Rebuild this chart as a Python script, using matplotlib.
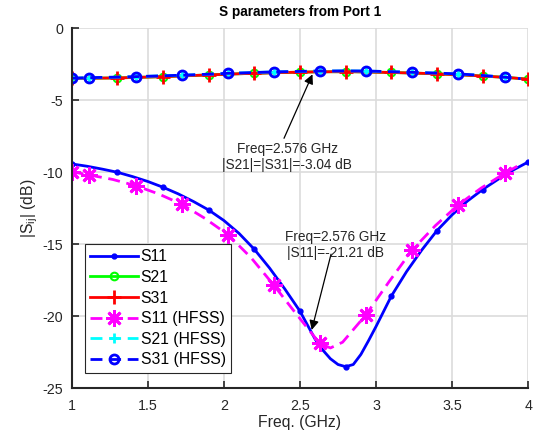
import numpy as np
import matplotlib
matplotlib.use('Agg')
import matplotlib.pyplot as plt

plt.rcParams['font.family'] = ['Liberation Sans', 'DejaVu Sans']
plt.rcParams['mathtext.fontset'] = 'custom'
plt.rcParams['mathtext.rm'] = 'Liberation Sans'
plt.rcParams['mathtext.it'] = 'Liberation Sans'
plt.rcParams['axes.unicode_minus'] = False

# circuit model data (GHz, dB)
freq = [1.0, 1.1, 1.2, 1.3, 1.4, 1.5, 1.6, 1.7, 1.8, 1.9, 2.0, 2.1, 2.2, 2.3, 2.4, 2.5,
        2.6, 2.65, 2.7, 2.75, 2.8, 2.85, 2.9, 2.95, 3.0, 3.1, 3.2, 3.3, 3.4, 3.5, 3.6,
        3.7, 3.8, 3.9, 4.0]
s11 = [-9.42, -9.58, -9.78, -10.0, -10.3, -10.64, -11.04, -11.5, -12.03, -12.62, -13.35,
       -14.25, -15.35, -16.65, -18.1, -19.65, -21.6, -22.35, -22.95, -23.35, -23.5, -23.35,
       -22.65, -21.7, -20.7, -18.6, -16.9, -15.4, -14.05, -12.95, -12.0, -11.2, -10.5,
       -9.85, -9.28]
s21 = [-3.48, -3.47, -3.46, -3.45, -3.42, -3.39, -3.36, -3.32, -3.28, -3.24, -3.2, -3.16,
       -3.13, -3.1, -3.07, -3.05, -3.03, -3.03, -3.02, -3.02, -3.02, -3.02, -3.03, -3.04,
       -3.05, -3.07, -3.1, -3.13, -3.17, -3.21, -3.26, -3.32, -3.38, -3.45, -3.54]
s31 = [-3.48, -3.47, -3.46, -3.45, -3.42, -3.39, -3.36, -3.32, -3.28, -3.24, -3.2, -3.16,
       -3.13, -3.1, -3.07, -3.05, -3.03, -3.03, -3.02, -3.02, -3.02, -3.02, -3.03, -3.04,
       -3.05, -3.07, -3.1, -3.13, -3.17, -3.21, -3.26, -3.32, -3.38, -3.45, -3.54]

# HFSS data
hfss_freq = [1.0, 1.116, 1.27, 1.42, 1.57, 1.723, 1.875, 2.029, 2.18, 2.327, 2.48, 2.629,
             2.7, 2.78, 2.933, 3.085, 3.237, 3.39, 3.541, 3.69, 3.845, 3.95]
hfss_s11 = [-9.96, -10.19, -10.5, -10.93, -11.5, -12.22, -13.2, -14.35, -15.95, -17.83,
            -19.9, -21.88, -22.2, -21.8, -19.9, -17.6, -15.4, -13.7, -12.25, -11.1, -10.07,
            -9.45]
hfss_s21 = [-3.47, -3.43, -3.4, -3.36, -3.31, -3.26, -3.2, -3.13, -3.08, -3.03, -3.0,
            -2.97, -2.97, -2.96, -2.97, -3.01, -3.06, -3.11, -3.17, -3.27, -3.40, -3.5]
hfss_s31 = [-3.47, -3.43, -3.4, -3.36, -3.31, -3.26, -3.2, -3.13, -3.08, -3.03, -3.0,
            -2.97, -2.97, -2.96, -2.97, -3.01, -3.06, -3.11, -3.17, -3.27, -3.40, -3.5]

marker_freq = [1.0, 1.3, 1.6, 1.9, 2.2, 2.5, 2.8, 3.1, 3.4, 3.7, 4.0]
mk = [freq.index(f) for f in marker_freq]
mk_h = [0, 1, 3, 5, 7, 9, 11, 14, 16, 18, 20]

fig = plt.figure(figsize=(5.37, 4.38), dpi=100)
ax = fig.add_axes([0.1335, 0.1135, 0.8503, 0.822])

lw = 2.0
dash = (4.3, 2.4)
ax.plot(freq, s11, color='#0000FF', lw=lw, marker='.', ms=7, markevery=mk, label='S11')
ax.plot(freq, s21, color='#00FF00', lw=lw, marker='o', ms=5.5, mfc='none', mew=1.5,
        markevery=mk, label='S21')
ax.plot(freq, s31, color='#FF0000', lw=lw, marker='+', ms=10, mew=2, markevery=mk, label='S31')
ax.plot(hfss_freq, hfss_s11, color='#FF00FF', lw=lw, dashes=dash, marker=(8, 2, 0), ms=12,
        mew=2, markevery=mk_h, label='S11 (HFSS)')
ax.plot(hfss_freq, hfss_s21, color='#00FFFF', lw=lw, dashes=dash, marker='+', ms=7, mew=2,
        markevery=mk_h, label='S21 (HFSS)')
ax.plot(hfss_freq, hfss_s31, color='#0000FF', lw=lw, dashes=dash, marker='o', ms=6.5,
        mfc='none', mew=2, markevery=mk_h, label='S31 (HFSS)')

# annotations
ax.annotate('', xy=(2.582, -3.2), xytext=(2.395, -7.64),
            arrowprops=dict(arrowstyle='-|>', color='k', lw=0.9, mutation_scale=14,
                            shrinkA=0, shrinkB=0))
ax.text(2.415, -8.94, 'Freq=2.576 GHz\n|S21|=|S31|=-3.04 dB', ha='center', va='center',
        fontsize=9.8, color='#262626', linespacing=1.15)
ax.annotate('', xy=(2.577, -20.95), xytext=(2.704, -15.69),
            arrowprops=dict(arrowstyle='-|>', color='k', lw=0.9, mutation_scale=14,
                            shrinkA=0, shrinkB=0))
ax.text(2.73, -15.05, 'Freq=2.576 GHz\n|S11|=-21.21 dB', ha='center', va='center',
        fontsize=9.8, color='#262626', linespacing=1.15)

ax.set_xlim(1, 4)
ax.set_ylim(-25, 0)
ax.set_xticks([1, 1.5, 2, 2.5, 3, 3.5, 4])
ax.set_xticklabels(['1', '1.5', '2', '2.5', '3', '3.5', '4'])
ax.set_yticks([-25, -20, -15, -10, -5, 0])
ax.grid(True, color='#dcdcdc', lw=1.2)
ax.set_axisbelow(True)
for s in ['top', 'right']:
    ax.spines[s].set_visible(False)
for s in ['left', 'bottom']:
    ax.spines[s].set_color('#262626')
    ax.spines[s].set_linewidth(1.5)
ax.tick_params(direction='in', length=5, width=1.2, colors='#262626', labelsize=10.3)
ax.tick_params(axis='x', pad=7.5)
ax.tick_params(axis='y', pad=6)
ax.set_title('S parameters from Port 1', fontsize=9.8, fontweight='bold', pad=9)
ax.set_xlabel('Freq. (GHz)', fontsize=11.3, color='#262626', labelpad=2)
ax.set_ylabel('|S$_{ij}$| (dB)', fontsize=11.3, color='#262626', labelpad=2)

leg = ax.legend(loc='lower left', bbox_to_anchor=(0.029, 0.0425), borderaxespad=0,
                fontsize=11.3, handlelength=3.0, handletextpad=0.2, labelspacing=0.36,
                fancybox=False, edgecolor='#262626', framealpha=1, borderpad=0.35)
leg.get_frame().set_linewidth(0.8)

fig.savefig('out.png', dpi=100)
